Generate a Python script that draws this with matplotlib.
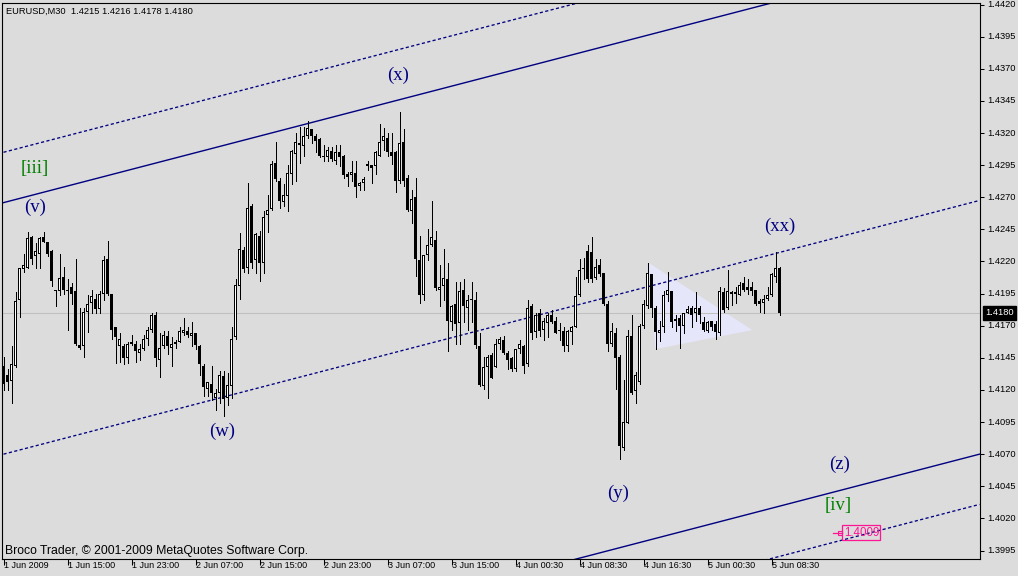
import matplotlib
matplotlib.use("Agg")
import matplotlib.pyplot as plt
import numpy as np
from matplotlib.transforms import blended_transform_factory
from matplotlib.patches import Polygon

# ---------------- data ----------------
opens = [
 1.4139,1.4132,1.4127,1.4139,1.4190,1.4214,1.4215,1.4239,1.4224,1.4226,
 1.4239,1.4235,1.4228,1.4198,1.4197,1.4208,1.4198,1.4200,1.4197,1.4155,
 1.4154,1.4181,1.4188,1.4191,1.4183,1.4195,1.4222,1.4195,1.4169,1.4154,
 1.4154,1.4145,1.4157,1.4156,1.4149,1.4152,1.4160,1.4167,1.4178,1.4143,
 1.4154,1.4162,1.4153,1.4157,1.4157,1.4164,1.4166,1.4162,1.4164,1.4154,
 1.4139,1.4121,1.4125,1.4114,1.4118,1.4131,1.4114,1.4123,1.4161,1.4201,
 1.4229,1.4215,1.4263,1.4221,1.4240,1.4219,1.4256,1.4261,1.4297,1.4283,
 1.4266,1.4271,1.4288,1.4304,1.4312,1.4310,1.4318,1.4323,1.4318,1.4315,
 1.4302,1.4301,1.4306,1.4298,1.4305,1.4302,1.4288,1.4287,1.4289,1.4279,
 1.4281,1.4296,1.4295,1.4294,1.4302,1.4314,1.4316,1.4305,1.4305,1.4283,
 1.4313,1.4285,1.4259,1.4270,1.4221,1.4194,1.4225,1.4233,1.4237,1.4198,
 1.4201,1.4206,1.4173,1.4187,1.4172,1.4198,1.4184,1.4191,1.4190,1.4154,
 1.4123,1.4138,1.4147,1.4138,1.4156,1.4159,1.4149,1.4145,1.4136,1.4152,
 1.4154,1.4140,1.4185,1.4165,1.4180,1.4167,1.4172,1.4178,1.4174,1.4167,
 1.4166,1.4154,1.4165,1.4169,1.4194,1.4214,1.4228,1.4227,1.4207,1.4217,
 1.4211,1.4187,1.4156,1.4164,1.4146,1.4075,1.4094,1.4162,1.4119,1.4126,
 1.4170,1.4185,1.4210,1.4184,1.4164,1.4169,1.4194,1.4197,1.4175,1.4176,
 1.4170,1.4180,1.4184,1.4180,1.4184,1.4173,1.4166,1.4174,1.4171,1.4164,
 1.4196,1.4184,1.4196,1.4196,1.4194,1.4203,1.4200,1.4200,1.4198,1.4189,
 1.4188,1.4191,1.4194,1.4208,1.4215]
highs = [
 1.4146,1.4136,1.4154,1.4196,1.4215,1.4226,1.4243,1.4240,1.4234,1.4239,
 1.4243,1.4235,1.4229,1.4198,1.4226,1.4216,1.4206,1.4203,1.4222,1.4184,
 1.4184,1.4194,1.4198,1.4195,1.4197,1.4224,1.4236,1.4195,1.4169,1.4164,
 1.4156,1.4157,1.4163,1.4158,1.4156,1.4163,1.4169,1.4180,1.4181,1.4164,
 1.4166,1.4166,1.4161,1.4159,1.4169,1.4176,1.4169,1.4173,1.4164,1.4155,
 1.4140,1.4126,1.4139,1.4121,1.4135,1.4135,1.4133,1.4169,1.4206,1.4242,
 1.4231,1.4281,1.4265,1.4242,1.4244,1.4259,1.4272,1.4298,1.4313,1.4285,
 1.4280,1.4295,1.4307,1.4320,1.4325,1.4325,1.4329,1.4323,1.4319,1.4316,
 1.4311,1.4309,1.4309,1.4311,1.4311,1.4303,1.4290,1.4298,1.4298,1.4282,
 1.4286,1.4298,1.4295,1.4306,1.4327,1.4324,1.4320,1.4320,1.4306,1.4336,
 1.4323,1.4287,1.4276,1.4285,1.4240,1.4225,1.4245,1.4267,1.4244,1.4217,
 1.4230,1.4219,1.4186,1.4204,1.4204,1.4206,1.4194,1.4204,1.4196,1.4164,
 1.4146,1.4147,1.4149,1.4160,1.4161,1.4162,1.4150,1.4146,1.4152,1.4159,
 1.4155,1.4190,1.4187,1.4180,1.4183,1.4176,1.4180,1.4182,1.4177,1.4172,
 1.4169,1.4167,1.4170,1.4208,1.4222,1.4223,1.4233,1.4239,1.4222,1.4222,
 1.4211,1.4189,1.4172,1.4168,1.4147,1.4128,1.4167,1.4178,1.4134,1.4171,
 1.4190,1.4219,1.4210,1.4185,1.4174,1.4197,1.4212,1.4197,1.4178,1.4178,
 1.4180,1.4185,1.4185,1.4196,1.4185,1.4177,1.4174,1.4174,1.4174,1.4200,
 1.4199,1.4213,1.4197,1.4200,1.4204,1.4208,1.4206,1.4204,1.4198,1.4191,
 1.4194,1.4200,1.4211,1.4227,1.4216]
lows = [
 1.4120,1.4120,1.4110,1.4138,1.4177,1.4212,1.4215,1.4218,1.4215,1.4215,
 1.4235,1.4224,1.4201,1.4185,1.4194,1.4195,1.4167,1.4187,1.4155,1.4152,
 1.4146,1.4165,1.4180,1.4180,1.4180,1.4190,1.4194,1.4160,1.4141,1.4142,
 1.4140,1.4141,1.4155,1.4142,1.4143,1.4151,1.4155,1.4165,1.4139,1.4130,
 1.4153,1.4148,1.4139,1.4153,1.4157,1.4163,1.4161,1.4154,1.4152,1.4132,
 1.4115,1.4115,1.4112,1.4104,1.4110,1.4100,1.4108,1.4114,1.4160,1.4191,
 1.4212,1.4211,1.4215,1.4211,1.4205,1.4211,1.4243,1.4260,1.4283,1.4262,
 1.4263,1.4259,1.4280,1.4283,1.4297,1.4302,1.4316,1.4312,1.4305,1.4301,
 1.4298,1.4298,1.4298,1.4296,1.4294,1.4285,1.4279,1.4283,1.4270,1.4276,
 1.4276,1.4291,1.4281,1.4288,1.4302,1.4307,1.4302,1.4296,1.4274,1.4281,
 1.4279,1.4259,1.4250,1.4209,1.4188,1.4190,1.4221,1.4232,1.4198,1.4185,
 1.4190,1.4150,1.4167,1.4156,1.4156,1.4173,1.4167,1.4173,1.4153,1.4123,
 1.4121,1.4114,1.4129,1.4138,1.4152,1.4148,1.4136,1.4135,1.4135,1.4149,
 1.4133,1.4139,1.4160,1.4161,1.4162,1.4159,1.4161,1.4172,1.4164,1.4159,
 1.4150,1.4150,1.4156,1.4169,1.4193,1.4206,1.4204,1.4204,1.4206,1.4209,
 1.4186,1.4150,1.4154,1.4121,1.4066,1.4073,1.4094,1.4117,1.4110,1.4125,
 1.4168,1.4184,1.4177,1.4152,1.4158,1.4165,1.4189,1.4169,1.4166,1.4153,
 1.4164,1.4180,1.4169,1.4174,1.4172,1.4166,1.4165,1.4167,1.4160,1.4163,
 1.4181,1.4183,1.4186,1.4188,1.4194,1.4197,1.4195,1.4194,1.4186,1.4181,
 1.4180,1.4190,1.4193,1.4204,1.4178]
closes = [
 1.4125,1.4126,1.4140,1.4189,1.4215,1.4217,1.4238,1.4222,1.4228,1.4238,
 1.4235,1.4226,1.4205,1.4197,1.4207,1.4198,1.4197,1.4195,1.4156,1.4153,
 1.4181,1.4187,1.4193,1.4183,1.4195,1.4221,1.4195,1.4167,1.4161,1.4160,
 1.4145,1.4156,1.4156,1.4150,1.4152,1.4160,1.4167,1.4178,1.4145,1.4153,
 1.4163,1.4154,1.4156,1.4156,1.4166,1.4167,1.4163,1.4164,1.4155,1.4140,
 1.4122,1.4126,1.4118,1.4118,1.4132,1.4113,1.4124,1.4160,1.4202,1.4230,
 1.4214,1.4262,1.4219,1.4241,1.4219,1.4255,1.4260,1.4296,1.4284,1.4267,
 1.4272,1.4289,1.4306,1.4313,1.4311,1.4318,1.4324,1.4318,1.4314,1.4302,
 1.4301,1.4307,1.4300,1.4305,1.4301,1.4287,1.4286,1.4290,1.4278,1.4281,
 1.4284,1.4294,1.4293,1.4305,1.4313,1.4318,1.4305,1.4302,1.4283,1.4312,
 1.4283,1.4260,1.4269,1.4222,1.4194,1.4225,1.4233,1.4239,1.4199,1.4200,
 1.4207,1.4174,1.4185,1.4171,1.4197,1.4185,1.4190,1.4190,1.4155,1.4124,
 1.4138,1.4146,1.4129,1.4156,1.4160,1.4149,1.4143,1.4136,1.4152,1.4156,
 1.4139,1.4184,1.4164,1.4178,1.4166,1.4174,1.4178,1.4173,1.4164,1.4166,
 1.4154,1.4166,1.4169,1.4193,1.4213,1.4215,1.4206,1.4206,1.4216,1.4210,
 1.4187,1.4156,1.4166,1.4145,1.4076,1.4095,1.4162,1.4118,1.4132,1.4170,
 1.4187,1.4211,1.4184,1.4165,1.4167,1.4194,1.4198,1.4173,1.4174,1.4170,
 1.4180,1.4183,1.4178,1.4184,1.4178,1.4167,1.4173,1.4169,1.4165,1.4197,
 1.4182,1.4197,1.4195,1.4195,1.4202,1.4198,1.4198,1.4197,1.4187,1.4187,
 1.4191,1.4194,1.4210,1.4215,1.4180]

time_tick_bars = [0, 16, 32, 48, 64, 80, 96, 112, 128, 144, 160, 176, 192]
time_tick_labels = ["1 Jun 2009", "1 Jun 15:00", "1 Jun 23:00", "2 Jun 07:00",
                    "2 Jun 15:00", "2 Jun 23:00", "3 Jun 07:00", "3 Jun 15:00",
                    "4 Jun 00:30", "4 Jun 08:30", "4 Jun 16:30", "5 Jun 00:30",
                    "5 Jun 08:30"]
price_ticks = [1.3995, 1.4020, 1.4045, 1.4070, 1.4095, 1.4120, 1.4145, 1.4170,
               1.4195, 1.4220, 1.4245, 1.4270, 1.4295, 1.4320, 1.4345, 1.4370,
               1.4395, 1.4420]
price_tick_labels = ["%.4f" % p for p in price_ticks]

# channel (drawn objects): price at bar 0 and bar 244
channel_bars = [0, 244]
upper_dashed = [1.43050, 1.45025]
upper_solid = [1.42658, 1.44633]
middle_dashed = [1.40700, 1.42675]
lower_solid = [1.38725, 1.40700]
lower_dashed = [1.38334, 1.40309]

# triangle object
tri_bars = [161.1, 163.0, 187.2]
tri_prices = [1.42193, 1.41518, 1.41666]

# wave labels
wave_texts = ["(x)", "[iii]", "(v)", "(w)", "(y)", "(xx)", "(z)", "[iv]"]
wave_bars = [98.75, 7.75, 8.0, 54.75, 153.75, 194.0, 209.0, 208.75]
wave_prices = [1.43651, 1.42920, 1.42624, 1.40880, 1.40397, 1.42476, 1.40623, 1.40304]
wave_colors = ["#000080", "#008000", "#000080", "#000080", "#000080", "#000080",
               "#000080", "#008000"]

current_price = 1.4180
target_price = 1.4009
target_bars = [207.25, 209.6]

header_text = "EURUSD,M30  1.4215 1.4216 1.4178 1.4180"
footer_text = "Broco Trader, \u00a9 2001-2009 MetaQuotes Software Corp."

# ---------------- figure ----------------
W, H = 1018, 576
BG = "#dcdcdc"
NAVY = "#000080"
fig = plt.figure(figsize=(W / 100, H / 100), dpi=100, facecolor=BG)
ax = fig.add_axes([2 / W, 17 / H, 978 / W, 556 / H])
ax.set_facecolor(BG)
YLO, YHI = 1.39884, 1.44212
ax.set_xlim(-0.375, 244.125)
ax.set_ylim(YLO, YHI)
PX = (YHI - YLO) / 556.0  # one pixel in price units

for s in ax.spines.values():
    s.set_color("black")
    s.set_linewidth(0.8)

ax.set_xticks(time_tick_bars)
ax.set_yticks(price_ticks)
ax.tick_params(axis="y", left=False, right=True, labelleft=False, labelright=False,
               direction="out", length=3, width=0.75, color="black")
ax.tick_params(axis="x", bottom=True, top=False, labelbottom=False,
               direction="out", length=4.3, width=0.75, color="black")

# triangle
ax.add_patch(Polygon(list(zip(tri_bars, tri_prices)), closed=True,
                     facecolor="#e6e6fa", edgecolor="none", zorder=1))

# channel lines
dash = (0, (2.4, 1.8))
ax.plot(channel_bars, upper_dashed, color=NAVY, lw=0.95, ls=dash, zorder=2)
ax.plot(channel_bars, upper_solid, color=NAVY, lw=1.0, zorder=2)
ax.plot(channel_bars, middle_dashed, color=NAVY, lw=0.95, ls=dash, zorder=2)
ax.plot(channel_bars, lower_solid, color=NAVY, lw=1.0, zorder=2)
ax.plot(channel_bars, lower_dashed, color=NAVY, lw=0.95, ls=dash, zorder=2)

# current price line
ax.axhline(current_price, color="#c0c0c0", lw=0.75, zorder=1.5)

# candles
o = np.array(opens); h = np.array(highs); l = np.array(lows); c = np.array(closes)
idx = np.arange(len(o))
ax.vlines(idx, l, h, color="black", lw=0.72, zorder=3, antialiased=False)
up = c >= o
bottom = np.minimum(o, c)
height = np.maximum(np.abs(c - o), PX)
ax.bar(idx, height, bottom=bottom, width=0.75, color="black", lw=0,
       zorder=4, antialiased=False)
inner = up & (height > 2.2 * PX)
ax.bar(idx[inner], height[inner] - 2 * PX, bottom=bottom[inner] + PX, width=0.25,
       color="white", lw=0, zorder=5, antialiased=False)

# wave labels
for t, b, p, col in zip(wave_texts, wave_bars, wave_prices, wave_colors):
    ax.text(b, p, t, color=col, ha="center", va="center", fontsize=13.5,
            family="Liberation Serif", zorder=6, clip_on=False)

# target price label
ax.plot(target_bars, [target_price, target_price], color="#ff1493", lw=0.9, zorder=6)
ax.plot([target_bars[1] - 0.4], [target_price], marker="s", ms=2.5, color="#ff1493",
        mfc="none", mew=0.8, zorder=6)
ax.text(target_bars[1] + 0.45, target_price, "%.4f" % target_price, color="#ff1493",
        ha="left", va="center", fontsize=8.3, family="Liberation Sans", zorder=6,
        bbox=dict(boxstyle="square,pad=0.12", fc="none", ec="#ff1493", lw=0.9))

# right price axis labels
ty = blended_transform_factory(fig.transFigure, ax.transData)
for p, lab in zip(price_ticks, price_tick_labels):
    ax.text(987 / W, p, lab, transform=ty, ha="left", va="center", fontsize=6.7,
            family="Liberation Sans", color="black", clip_on=False)
ax.text(985 / W, current_price, "%.4f" % current_price, transform=ty, ha="left",
        va="center", fontsize=6.7, family="Liberation Sans", color="white",
        clip_on=False, zorder=7,
        bbox=dict(boxstyle="square,pad=0.25", fc="black", ec="black"))

# time axis labels
tx = blended_transform_factory(ax.transData, fig.transFigure)
for b, lab in zip(time_tick_bars, time_tick_labels):
    ax.text(b + 0.1, 1 - 566 / H, lab, transform=tx, ha="left", va="center",
            fontsize=6.5, family="Liberation Sans", color="black", clip_on=False)

fig.text(6 / W, 1 - 11 / H, header_text, ha="left", va="center", fontsize=6.7,
         family="Liberation Sans", color="black")
fig.text(5 / W, 1 - 551 / H, footer_text, ha="left", va="center", fontsize=8.8,
         family="Liberation Sans", color="black")

fig.savefig("out.png", dpi=100, facecolor=BG)
